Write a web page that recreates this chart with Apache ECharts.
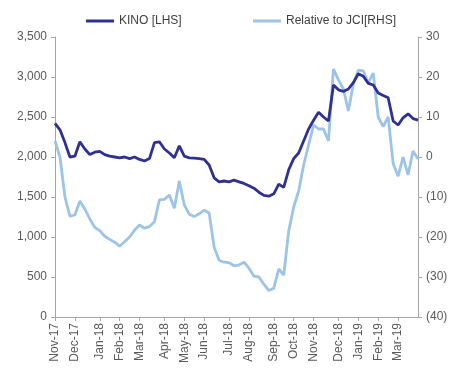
<!DOCTYPE html>
<html>
<head>
<meta charset="utf-8">
<script src="https://cdn.jsdelivr.net/npm/echarts@6/dist/echarts.min.js"></script>
<style>
html,body{margin:0;padding:0;background:#fff;}
#c{width:454px;height:369px;}
</style>
</head>
<body>
<div id="c"></div>
<script>
const dates = [
'2017-11-03','2017-11-10','2017-11-17','2017-11-24','2017-12-01','2017-12-08','2017-12-15','2017-12-22','2017-12-29',
'2018-01-05','2018-01-12','2018-01-19','2018-01-26','2018-02-02','2018-02-09','2018-02-16','2018-02-23',
'2018-03-02','2018-03-09','2018-03-16','2018-03-23','2018-03-30','2018-04-06','2018-04-13','2018-04-20','2018-04-27',
'2018-05-04','2018-05-11','2018-05-18','2018-05-25','2018-06-01','2018-06-08','2018-06-15','2018-06-22','2018-06-29',
'2018-07-06','2018-07-13','2018-07-20','2018-07-27','2018-08-03','2018-08-10','2018-08-17','2018-08-24','2018-08-31',
'2018-09-07','2018-09-14','2018-09-21','2018-09-28','2018-10-05','2018-10-12','2018-10-19','2018-10-26',
'2018-11-02','2018-11-09','2018-11-16','2018-11-23','2018-11-30','2018-12-07','2018-12-14','2018-12-21','2018-12-28',
'2019-01-04','2019-01-11','2019-01-18','2019-01-25','2019-02-01','2019-02-08','2019-02-15','2019-02-22',
'2019-03-01','2019-03-08','2019-03-15','2019-03-22','2019-03-29'
];
const kino = [
2420,2340,2180,2000,2010,2190,2100,2030,2060,
2070,2030,2010,2000,1990,2000,1980,2000,
1970,1950,1980,2180,2190,2100,2050,1990,2140,
2010,1990,1985,1980,1970,1900,1740,1690,1700,
1690,1710,1690,1670,1640,1610,1560,1520,1510,
1540,1660,1620,1840,1980,2050,2200,2350,
2460,2560,2500,2450,2900,2840,2820,2850,2930,
3040,3010,2920,2900,2800,2770,2740,2450,
2400,2490,2540,2480,2460
];
const relJci = [
4,0,-10,-14.8,-14.5,-11,-13,-15.5,-17.6,
-18.4,-19.8,-20.6,-21.3,-22.3,-21.2,-20,-18.3,
-17,-17.8,-17.4,-16.2,-10.7,-10.6,-9.5,-12.8,-6,
-12,-14.3,-14.9,-14.2,-13.3,-14,-22.5,-25.8,-26.3,
-26.4,-27.2,-27,-26.3,-27.8,-29.8,-30,-31.8,-33.4,
-32.8,-28,-29.5,-18.5,-12.5,-8.5,-2,3,
8,7,7,4,22,19.3,17,11.5,18.3,
21.7,21.5,18.5,21,10,7.6,10,-1.6,
-4.8,0,-4.5,1.5,-0.5
];
const leftTicks = {min:0, max:3500, interval:500};
const rightTicks = {min:-40, max:30, interval:10};
const monthNames = ['Jan','Feb','Mar','Apr','May','Jun','Jul','Aug','Sep','Oct','Nov','Dec'];

function isMonthStart(i){
  if(i===0) return true;
  return dates[i].slice(0,7) !== dates[i-1].slice(0,7);
}
const font = 'Liberation Sans';
const txt = '#595959';
const axisCol = '#a6a6a6';
const dark = '#2e3192';
const light = '#9dc3e6';

const chart = echarts.init(document.getElementById('c'));
chart.setOption({
  animation:false,
  backgroundColor:'#fff',
  legend:[
    {data:['KINO [LHS]'], left:81, top:10, icon:'rect', itemWidth:28, itemHeight:3, itemGap:0,
     textStyle:{fontFamily:font, fontSize:12, color:'#404040'}},
    {data:['Relative to JCI[RHS]'], left:248, top:10, icon:'rect', itemWidth:28, itemHeight:3, itemGap:0,
     textStyle:{fontFamily:font, fontSize:12, color:'#404040'}}
  ],
  grid:{left:55, right:36, top:37, bottom:52, containLabel:false},
  xAxis:{
    type:'category', data:dates, boundaryGap:false,
    axisLine:{lineStyle:{color:axisCol}},
    axisTick:{show:true, length:4, lineStyle:{color:axisCol}, interval:function(i){return isMonthStart(i);}},
    axisLabel:{rotate:90, fontFamily:font, fontSize:12, color:txt, margin:6,
      interval:function(i){return isMonthStart(i);},
      formatter:function(v){const m=parseInt(v.slice(5,7),10)-1; return monthNames[m]+'-'+v.slice(2,4);}}
  },
  yAxis:[
    {type:'value', min:leftTicks.min, max:leftTicks.max, interval:leftTicks.interval,
     splitLine:{show:false},
     axisLine:{show:true, lineStyle:{color:axisCol}},
     axisTick:{show:true, length:4, lineStyle:{color:axisCol}},
     axisLabel:{fontFamily:font, fontSize:12, color:txt, margin:8,
       formatter:function(v){return v.toLocaleString('en-US');}}},
    {type:'value', min:rightTicks.min, max:rightTicks.max, interval:rightTicks.interval,
     position:'right', splitLine:{show:false},
     axisLine:{show:true, lineStyle:{color:axisCol}},
     axisTick:{show:true, length:4, lineStyle:{color:axisCol}},
     axisLabel:{fontFamily:font, fontSize:12, color:txt, margin:8,
       formatter:function(v){return v<0?'('+(-v)+')':String(v);}}}
  ],
  series:[
    {name:'KINO [LHS]', type:'line', yAxisIndex:0, data:kino, symbol:'none', z:3,
     lineStyle:{color:dark, width:2.8}, itemStyle:{color:dark}},
    {name:'Relative to JCI[RHS]', type:'line', yAxisIndex:1, data:relJci, symbol:'none', z:2,
     lineStyle:{color:light, width:2.8}, itemStyle:{color:light}}
  ]
});
</script>
</body>
</html>
